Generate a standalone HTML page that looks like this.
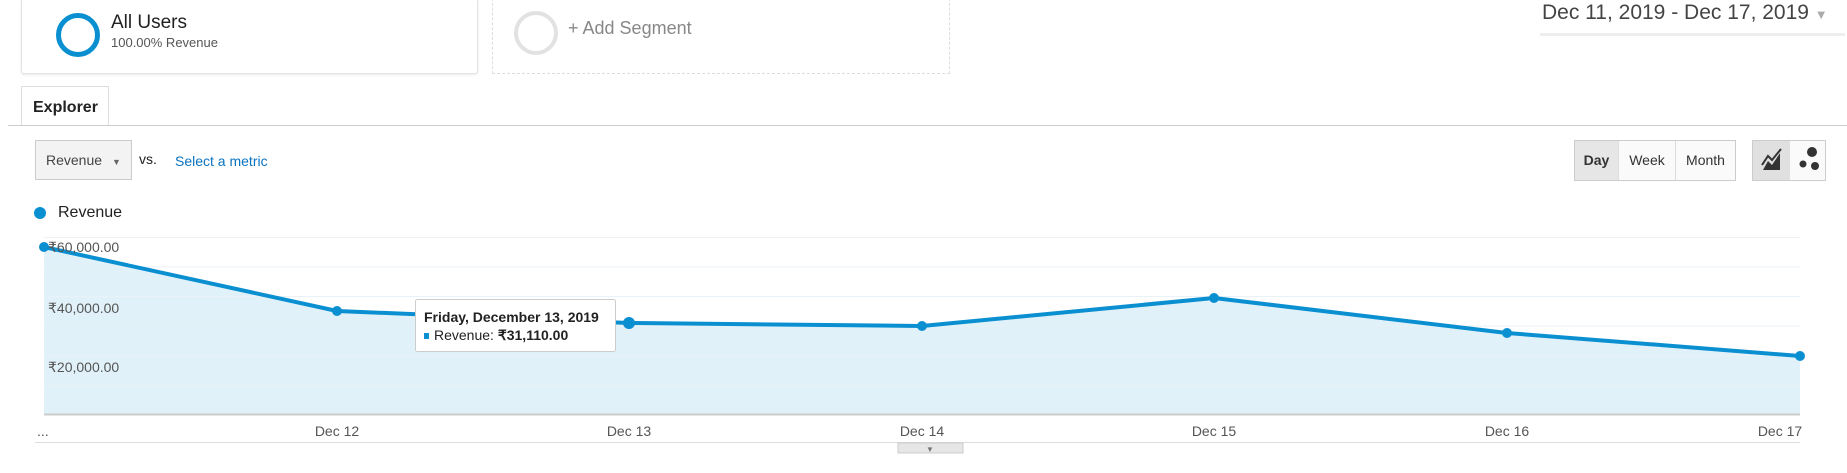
<!DOCTYPE html>
<html><head><meta charset="utf-8"><style>
body{margin:0;width:1847px;height:473px;background:#fff;font-family:"Liberation Sans",sans-serif;position:relative;overflow:hidden;color:#333}
.a{position:absolute}
</style></head><body>
<div class="a" style="left:21px;top:-2px;width:455px;height:74px;border:1px solid #e3e3e3;border-radius:3px;box-shadow:0 1px 2px #e8e8e8"></div>
<div class="a" style="left:56px;top:13px;width:34px;height:34px;border:5px solid #0a8fd1;border-radius:50%;box-sizing:border-box;width:44px;height:44px"></div>
<div class="a" style="left:111px;top:12px;font-size:19px;color:#222">All Users</div>
<div class="a" style="left:111px;top:35px;font-size:13px;color:#555">100.00% Revenue</div>
<div class="a" style="left:492px;top:-2px;width:456px;height:74px;border:1px dashed #ddd"></div>
<div class="a" style="left:514px;top:11px;width:44px;height:44px;border:4px solid #e2e2e2;border-radius:50%;box-sizing:border-box"></div>
<div class="a" style="left:568px;top:18px;font-size:18px;color:#888">+ Add Segment</div>
<div class="a" style="left:1542px;top:1px;font-size:21px;color:#444">Dec 11, 2019 - Dec 17, 2019 <span style="color:#aaa;font-size:13px">▼</span></div>
<div class="a" style="left:1540px;top:33px;width:305px;height:3px;background:#eee"></div>
<div class="a" style="left:21px;top:86px;width:88px;height:40px;border:1px solid #ddd;border-bottom:none;background:#fff;box-sizing:border-box;font-weight:bold;font-size:16px;padding:12px 0 0 11px;color:#222">Explorer</div>
<div class="a" style="left:8px;top:125px;width:1839px;height:1px;background:#ccc"></div>
<div class="a" style="left:35px;top:140px;width:97px;height:40px;border:1px solid #ccc;background:#f3f3f3;box-sizing:border-box;font-size:14px;color:#444;padding:11px 0 0 10px">Revenue <span style="font-size:9px;color:#666;margin-left:6px">▼</span></div>
<div class="a" style="left:139px;top:151px;font-size:14px;color:#222">vs.</div>
<div class="a" style="left:175px;top:153px;font-size:14px;color:#0a73c0">Select a metric</div>
<div class="a" style="left:1574px;top:140px;width:162px;height:41px;border:1px solid #ccc;box-sizing:border-box;display:flex;font-size:14px;color:#333;background:#fafafa">
<div style="width:43px;background:#e6e6e6;font-weight:bold;text-align:center;line-height:39px;border-right:1px solid #ddd">Day</div>
<div style="width:56px;text-align:center;line-height:39px;border-right:1px solid #ddd">Week</div>
<div style="flex:1;text-align:center;line-height:39px">Month</div></div>
<div class="a" style="left:1752px;top:140px;width:74px;height:41px;border:1px solid #ccc;box-sizing:border-box;display:flex;background:#fafafa">
<div style="width:37px;background:#e0e0e0;position:relative"><svg width="37" height="39"><path d="M10 29 L15 20 L19 24 L27 12 L27 29 Z" fill="#333"/><path d="M9 24 L15 15 L19 19 L28 8" stroke="#333" stroke-width="2" fill="none"/></svg></div>
<div style="flex:1"><svg width="36" height="39"><circle cx="22" cy="11" r="5" fill="#333"/><circle cx="13" cy="23" r="3.5" fill="#333"/><circle cx="25" cy="25" r="4" fill="#333"/></svg></div></div>
<div class="a" style="left:34px;top:207px;width:12px;height:12px;border-radius:50%;background:#0a8fd1"></div>
<div class="a" style="left:58px;top:204px;font-size:16px;color:#222">Revenue</div>
<svg class="a" style="left:0;top:0" width="1847" height="473">
<g stroke="#f0f0f0" stroke-width="1">
<line x1="44" y1="237.5" x2="1800" y2="237.5"/><line x1="44" y1="267" x2="1800" y2="267"/><line x1="44" y1="296.5" x2="1800" y2="296.5"/><line x1="44" y1="326" x2="1800" y2="326"/><line x1="44" y1="355.5" x2="1800" y2="355.5"/><line x1="44" y1="385" x2="1800" y2="385"/></g>
<path d="M44 247 L337 311 L629 323 L922 326 L1214 298 L1507 333 L1800 356 L1800 414 L44 414 Z" fill="#e1f1f9"/>
<g stroke="#e8f2f7" stroke-width="1"><line x1="44" y1="267" x2="1800" y2="267"/><line x1="44" y1="296.5" x2="1800" y2="296.5"/><line x1="44" y1="326" x2="1800" y2="326"/><line x1="44" y1="355.5" x2="1800" y2="355.5"/><line x1="44" y1="385" x2="1800" y2="385"/></g>
<line x1="44" y1="414.5" x2="1800" y2="414.5" stroke="#ccc" stroke-width="2"/>
<path d="M44 247 L337 311 L629 323 L922 326 L1214 298 L1507 333 L1800 356" fill="none" stroke="#0a8fd1" stroke-width="4" stroke-linejoin="round"/>
<g fill="#0a8fd1"><circle cx="44" cy="247" r="5"/><circle cx="337" cy="311" r="5"/><circle cx="629" cy="323" r="6"/><circle cx="922" cy="326" r="5"/><circle cx="1214" cy="298" r="5"/><circle cx="1507" cy="333" r="5"/><circle cx="1800" cy="356" r="5"/></g>
<g font-family="Liberation Sans,sans-serif" font-size="14" fill="#555">
<text x="48" y="252">₹60,000.00</text><text x="48" y="313">₹40,000.00</text><text x="48" y="372">₹20,000.00</text>
<text x="37" y="436">...</text>
<text x="337" y="436" text-anchor="middle">Dec 12</text><text x="629" y="436" text-anchor="middle">Dec 13</text><text x="922" y="436" text-anchor="middle">Dec 14</text><text x="1214" y="436" text-anchor="middle">Dec 15</text><text x="1507" y="436" text-anchor="middle">Dec 16</text><text x="1780" y="436" text-anchor="middle">Dec 17</text></g>
<line x1="35" y1="442.5" x2="1800" y2="442.5" stroke="#ddd" stroke-width="1"/>
<rect x="898" y="443" width="65" height="10" fill="#e6e6e6" stroke="#ccc"/>
<text x="930" y="452" font-size="8" fill="#777" text-anchor="middle">▼</text>
<rect x="415.5" y="299.5" width="200" height="52" fill="#fff" stroke="#ccc" rx="2"/>
<text x="424" y="322" font-family="Liberation Sans,sans-serif" font-size="14" font-weight="bold" fill="#222">Friday, December 13, 2019</text>
<rect x="424" y="333" width="5" height="6" fill="#0a8fd1"/>
<text x="434" y="340" font-family="Liberation Sans,sans-serif" font-size="14" fill="#222">Revenue: <tspan font-weight="bold">₹31,110.00</tspan></text>
</svg>
</body></html>
